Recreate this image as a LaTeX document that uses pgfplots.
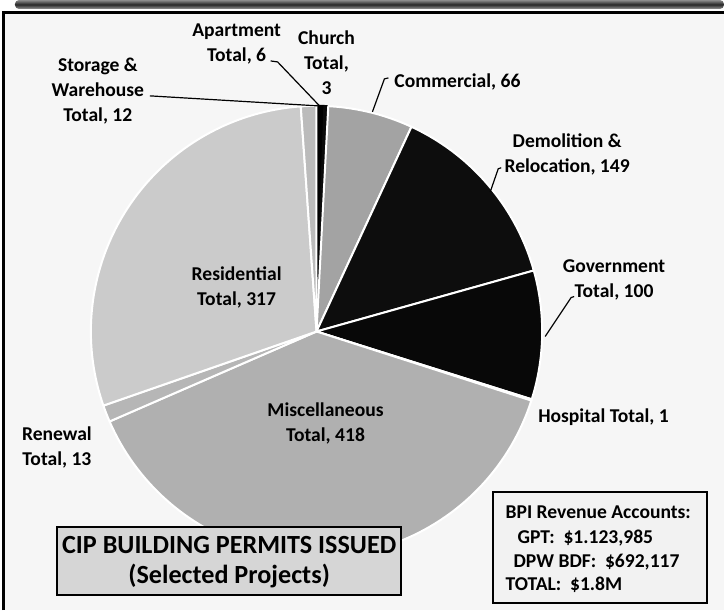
\documentclass[border=0pt]{standalone}
\usepackage{pgfplots}
\pgfplotsset{compat=1.18}
\usepackage{pgfplotstable}
\usepackage{fontspec}
\setmainfont{Carlito}

\definecolor{cApt}{HTML}{000000}
\definecolor{cChu}{HTML}{0A0A0A}
\definecolor{cCom}{HTML}{A3A3A3}
\definecolor{cDem}{HTML}{0D0D0D}
\definecolor{cGov}{HTML}{080808}
\definecolor{cHos}{HTML}{D0D0D0}
\definecolor{cMis}{HTML}{B0B0B0}
\definecolor{cRen}{HTML}{B6B6B6}
\definecolor{cRes}{HTML}{CBCBCB}
\definecolor{cSto}{HTML}{BBBBBB}
\definecolor{panel}{HTML}{F6F6F6}
\definecolor{cipfill}{HTML}{D6D6D6}
\definecolor{bpifill}{HTML}{F2F2F2}

\pgfplotstableread{
name value shade edge
Apartment 6 cApt cApt
Church 3 cChu cChu
Commercial 66 cCom white
Demolition 149 cDem white
Government 100 cGov white
Hospital 1 cHos white
Miscellaneous 418 cMis white
Renewal 13 cRen white
Residential 317 cRes white
Storage 12 cSto white
}\piedata

\newcommand\lbl{\fontsize{9.8}{12.4}\selectfont\bfseries}
\newcommand\ttl{\fontsize{13.1}{15}\selectfont\bfseries}

\begin{document}
\begin{tikzpicture}
\begin{axis}[
  width=362.5pt, height=305.5pt, scale only axis,
  xmin=0, xmax=725, ymin=0, ymax=611, y dir=reverse,
  hide axis, clip=false,
  axis background/.style={fill=white},
]
% panel and header
\fill[panel] (axis cs:3.5,12.5) rectangle (axis cs:725,611);
\shade[top color=black!45, bottom color=black!40, middle color=black!85, rounded corners=2pt]
  (axis cs:15,0) rectangle (axis cs:725,9);
\draw[line width=1.1pt] (axis cs:3.5,611) -- (axis cs:3.5,12.5) -- (axis cs:725,12.5);

% pie slices from the table
\pgfplotstablegetrowsof{\piedata}
\pgfmathtruncatemacro\lastrow{\pgfplotsretval-1}
\gdef\pietotal{0}
\pgfplotsforeachungrouped \i in {0,...,\lastrow}{%
  \pgfplotstablegetelem{\i}{value}\of\piedata
  \pgfmathsetmacro\pietotal{\pietotal+\pgfplotsretval}%
}
\gdef\startang{90}
\pgfplotsforeachungrouped \i in {0,...,\lastrow}{%
  \pgfplotstablegetelem{\i}{value}\of\piedata
  \let\val\pgfplotsretval
  \pgfplotstablegetelem{\i}{shade}\of\piedata
  \let\shd\pgfplotsretval
  \pgfplotstablegetelem{\i}{edge}\of\piedata
  \let\edg\pgfplotsretval
  \pgfmathsetmacro\endang{\startang-\val/\pietotal*360}%
  \edef\doslice{\noexpand\addplot[fill=\shd, draw=\edg, line width=1pt, line join=round,
     domain=\endang:\startang, samples=90]
     ({317+226*cos(x)},{332-226*sin(x)}) -- (axis cs:317,332) -- cycle;}%
  \doslice
  \global\let\startang\endang
}

% leader lines
\draw[line width=0.6pt] (axis cs:271,61) -- (axis cs:278,62) -- (axis cs:320,106);
\draw[line width=0.6pt] (axis cs:150,96) -- (axis cs:318,106);
\draw[line width=0.6pt] (axis cs:389,78) -- (axis cs:385,79) -- (axis cs:373,112);
\draw[line width=0.6pt] (axis cs:502,168) -- (axis cs:499,169) -- (axis cs:491,192);
\draw[line width=0.6pt] (axis cs:575,297) -- (axis cs:572,298) -- (axis cs:546,337);

% labels
\node[align=center, font=\lbl] at (axis cs:237,44) {Apartment\\Total, 6};
\node[align=center, font=\lbl] at (axis cs:327,63) {Church\\Total,\\3};
\node[align=center, font=\lbl] at (axis cs:98,91) {Storage \&\\Warehouse\\Total, 12};
\node[anchor=west, font=\lbl] at (axis cs:388,82) {Commercial, 66};
\node[align=center, font=\lbl] at (axis cs:568,155) {Demolition \&\\Relocation, 149};
\node[align=center, font=\lbl] at (axis cs:615,280) {Government\\Total, 100};
\node[anchor=west, font=\lbl] at (axis cs:532,418) {Hospital Total, 1};
\node[align=center, font=\lbl] at (axis cs:326,424) {Miscellaneous\\Total, 418};
\node[align=center, font=\lbl] at (axis cs:237,288) {Residential\\Total, 317};
\node[align=center, font=\lbl] at (axis cs:57,448) {Renewal\\Total, 13};

% title box
\draw[line width=1pt, fill=cipfill] (axis cs:57,528) rectangle (axis cs:402,596);
\node[align=center, font=\ttl] at (axis cs:229.5,563) {CIP BUILDING PERMITS ISSUED\\(Selected Projects)};

% revenue box
\draw[line width=1pt, fill=bpifill] (axis cs:494,493) rectangle (axis cs:708,604);
\node[anchor=base west, font=\lbl, inner sep=0pt] at (axis cs:506,519) {BPI Revenue Accounts:};
\node[anchor=base west, font=\lbl, inner sep=0pt] at (axis cs:518,544) {GPT:\hspace{0.45em}\$1.123,985};
\node[anchor=base west, font=\lbl, inner sep=0pt] at (axis cs:514,568) {DPW BDF:\hspace{0.45em}\$692,117};
\node[anchor=base west, font=\lbl, inner sep=0pt] at (axis cs:506,591) {TOTAL:\hspace{0.45em}\$1.8M};
\end{axis}
\end{tikzpicture}
\end{document}
